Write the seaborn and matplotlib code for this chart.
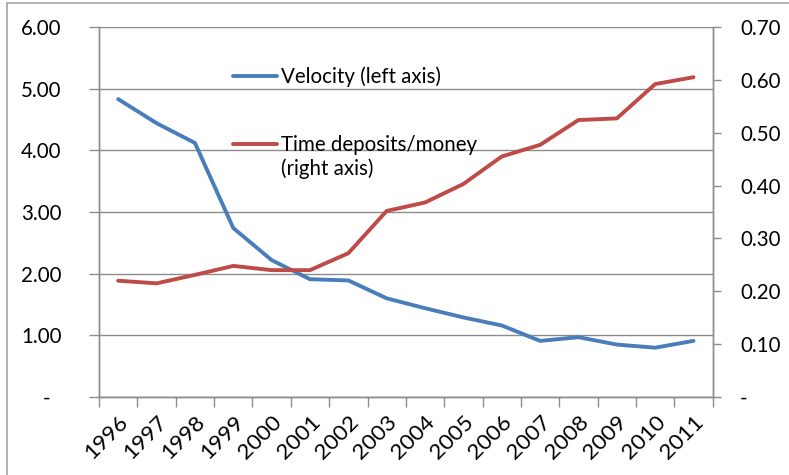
import numpy as np
import pandas as pd
import matplotlib
matplotlib.use("Agg")
import matplotlib.pyplot as plt
import seaborn as sns
from matplotlib.lines import Line2D
from matplotlib.ticker import FixedLocator, FuncFormatter

# data
years = ["1996", "1997", "1998", "1999", "2000", "2001", "2002", "2003",
         "2004", "2005", "2006", "2007", "2008", "2009", "2010", "2011"]
velocity = [4.83, 4.44, 4.12, 2.74, 2.22, 1.91, 1.89, 1.60,
            1.44, 1.29, 1.16, 0.91, 0.97, 0.85, 0.80, 0.91]
time_dep_ratio = [0.220, 0.215, 0.231, 0.248, 0.240, 0.240, 0.272, 0.352,
                  0.368, 0.403, 0.455, 0.477, 0.524, 0.527, 0.592, 0.605]
left_ticks = [0, 1, 2, 3, 4, 5, 6]
right_ticks = [0, 0.1, 0.2, 0.3, 0.4, 0.5, 0.6, 0.7]

df = pd.DataFrame({"pos": np.arange(len(years)), "year": years,
                   "velocity": velocity, "ratio": time_dep_ratio})

sns.set_theme(style="white")
plt.rcParams["font.family"] = ["Lato", "DejaVu Sans"]

blue = "#4A7EBB"
red = "#BE4B48"
grid_c = "#8C8C8C"
txt_c = "#000000"
fs = 14.8
lw = 2.8

fig = plt.figure(figsize=(7.89, 4.75), dpi=100)
ax = fig.add_axes([0.1255, 0.1642, 0.7778, 0.779])
ax2 = ax.twinx()

sns.lineplot(data=df, x="pos", y="velocity", ax=ax, color=blue, linewidth=lw)
sns.lineplot(data=df, x="pos", y="ratio", ax=ax2, color=red, linewidth=lw)

n = len(years)
ax.set_xlim(-0.5, n - 0.5)
ax.set_ylim(0, 6)
ax2.set_ylim(0, 0.7)

# x axis: ticks between categories, labels at the centres
ax.xaxis.set_major_locator(FixedLocator(np.arange(-0.5, n, 1.0)))
ax.xaxis.set_major_formatter(FuncFormatter(lambda v, p: ""))
ax.set_xticks(df["pos"], labels=years, minor=True)
ax.tick_params(axis="x", which="major", length=7, width=1, color=grid_c, direction="out", bottom=True)
ax.tick_params(axis="x", which="minor", length=0, pad=11)
for lab in ax.get_xticklabels(minor=True):
    lab.set_rotation(45)
    lab.set_ha("right")
    lab.set_va("top")
    lab.set_rotation_mode("anchor")
    lab.set_fontsize(16.2)
    lab.set_color(txt_c)

ax.set_yticks(left_ticks)
ax.yaxis.set_major_formatter(FuncFormatter(lambda v, p: "-  " if v == 0 else f"{v:.2f}"))
ax.tick_params(axis="y", length=7, width=1, color=grid_c, direction="out", left=True,
               labelsize=fs, labelcolor=txt_c, pad=20)

ax2.set_yticks(right_ticks)
ax2.yaxis.set_major_formatter(FuncFormatter(lambda v, p: "-" if v == 0 else f"{v:.2f}"))
ax2.tick_params(axis="y", length=6, width=1, color=grid_c, direction="out", right=True,
                labelsize=fs, labelcolor=txt_c, pad=13.7)

ax.grid(axis="y", color=grid_c, linewidth=1)
ax.set_xlabel("")
ax.set_ylabel("")
ax2.set_ylabel("")

for a in (ax, ax2):
    for side, sp in a.spines.items():
        sp.set_color(grid_c)
        sp.set_linewidth(1)
    a.spines["top"].set_visible(False)

# legend entries, placed like the Excel legend (line aligned with first text line)
leg_kw = dict(frameon=False, fontsize=fs, handlelength=2.15, handletextpad=0.2,
              borderpad=0, borderaxespad=0, labelcolor=txt_c)
leg1 = ax2.legend([Line2D([], [], color=blue, linewidth=lw)], ["Velocity (left axis)"],
                  loc="center left", bbox_to_anchor=(0.218, 0.865), **leg_kw)
ax2.add_artist(leg1)
leg2 = ax2.legend([Line2D([], [], color=red, linewidth=lw), Line2D([], [], alpha=0)],
                  ["Time deposits/money", "(right axis)"],
                  loc="center left", bbox_to_anchor=(0.218, 0.6486),
                  labelspacing=0.12, **leg_kw)

# chart area border (only the top and left edges show in the crop)
fig.add_artist(Line2D([7 / 789, 7 / 789], [0, 1 - 3 / 475], color="#A6A6A6", linewidth=1.2))
fig.add_artist(Line2D([7 / 789, 1], [1 - 3 / 475, 1 - 3 / 475], color="#A6A6A6", linewidth=1.2))

fig.savefig("out.png", dpi=100)
